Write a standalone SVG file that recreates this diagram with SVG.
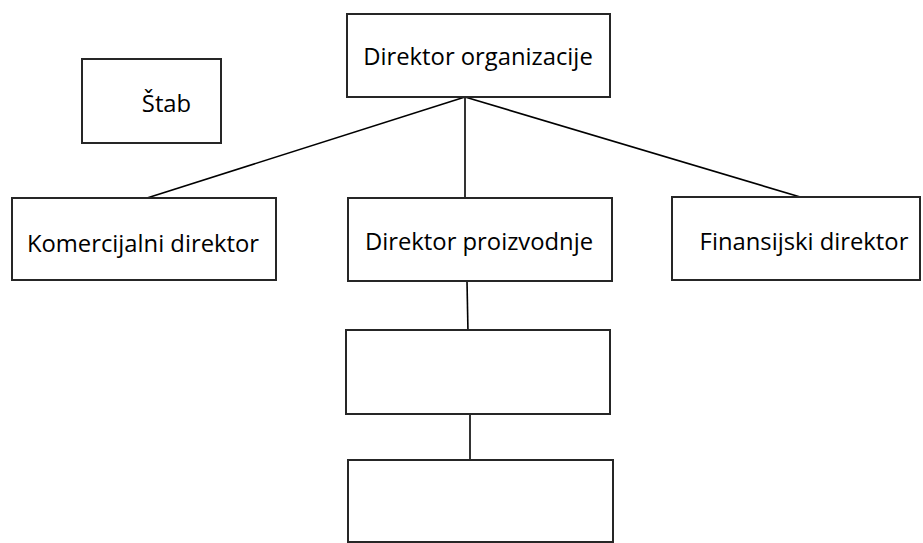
<svg xmlns="http://www.w3.org/2000/svg" width="923" height="543" viewBox="0 0 923 543">
  <style>
    .box { fill: #ffffff; stroke: #262626; stroke-width: 2; }
    .link { stroke: #000000; stroke-width: 1.6; fill: none; }
    .label { font-family: "Open Sans", "Noto Sans", "DejaVu Sans", sans-serif; font-size: 23.8px; fill: #000000; text-anchor: middle; }
  </style>
  <rect width="923" height="543" fill="#ffffff"/>

  <g id="connectors">
    <line class="link" x1="465" y1="97" x2="147" y2="198"/>
    <line class="link" x1="465" y1="97" x2="465" y2="198"/>
    <line class="link" x1="465" y1="97" x2="807" y2="199"/>
    <line class="link" x1="467" y1="281" x2="468" y2="333"/>
    <line class="link" x1="470" y1="414" x2="470" y2="460"/>
  </g>

  <g id="node-direktor-organizacije">
    <rect class="box" x="347" y="14" width="263" height="83"/>
    <text class="label" x="478" y="65">Direktor organizacije</text>
  </g>

  <g id="node-stab">
    <rect class="box" x="82" y="59" width="139" height="84"/>
    <text class="label" x="166.5" y="112">Štab</text>
  </g>

  <g id="node-komercijalni-direktor">
    <rect class="box" x="12" y="198" width="264" height="82"/>
    <text class="label" x="143" y="252">Komercijalni direktor</text>
  </g>

  <g id="node-direktor-proizvodnje">
    <rect class="box" x="348" y="198" width="264" height="83"/>
    <text class="label" x="479" y="250">Direktor proizvodnje</text>
  </g>

  <g id="node-finansijski-direktor">
    <rect class="box" x="672" y="197" width="248" height="83"/>
    <text class="label" x="804" y="250">Finansijski direktor</text>
  </g>

  <g id="node-empty-1">
    <rect class="box" x="346" y="330" width="264" height="84"/>
  </g>

  <g id="node-empty-2">
    <rect class="box" x="348" y="460" width="265" height="82"/>
  </g>
</svg>
